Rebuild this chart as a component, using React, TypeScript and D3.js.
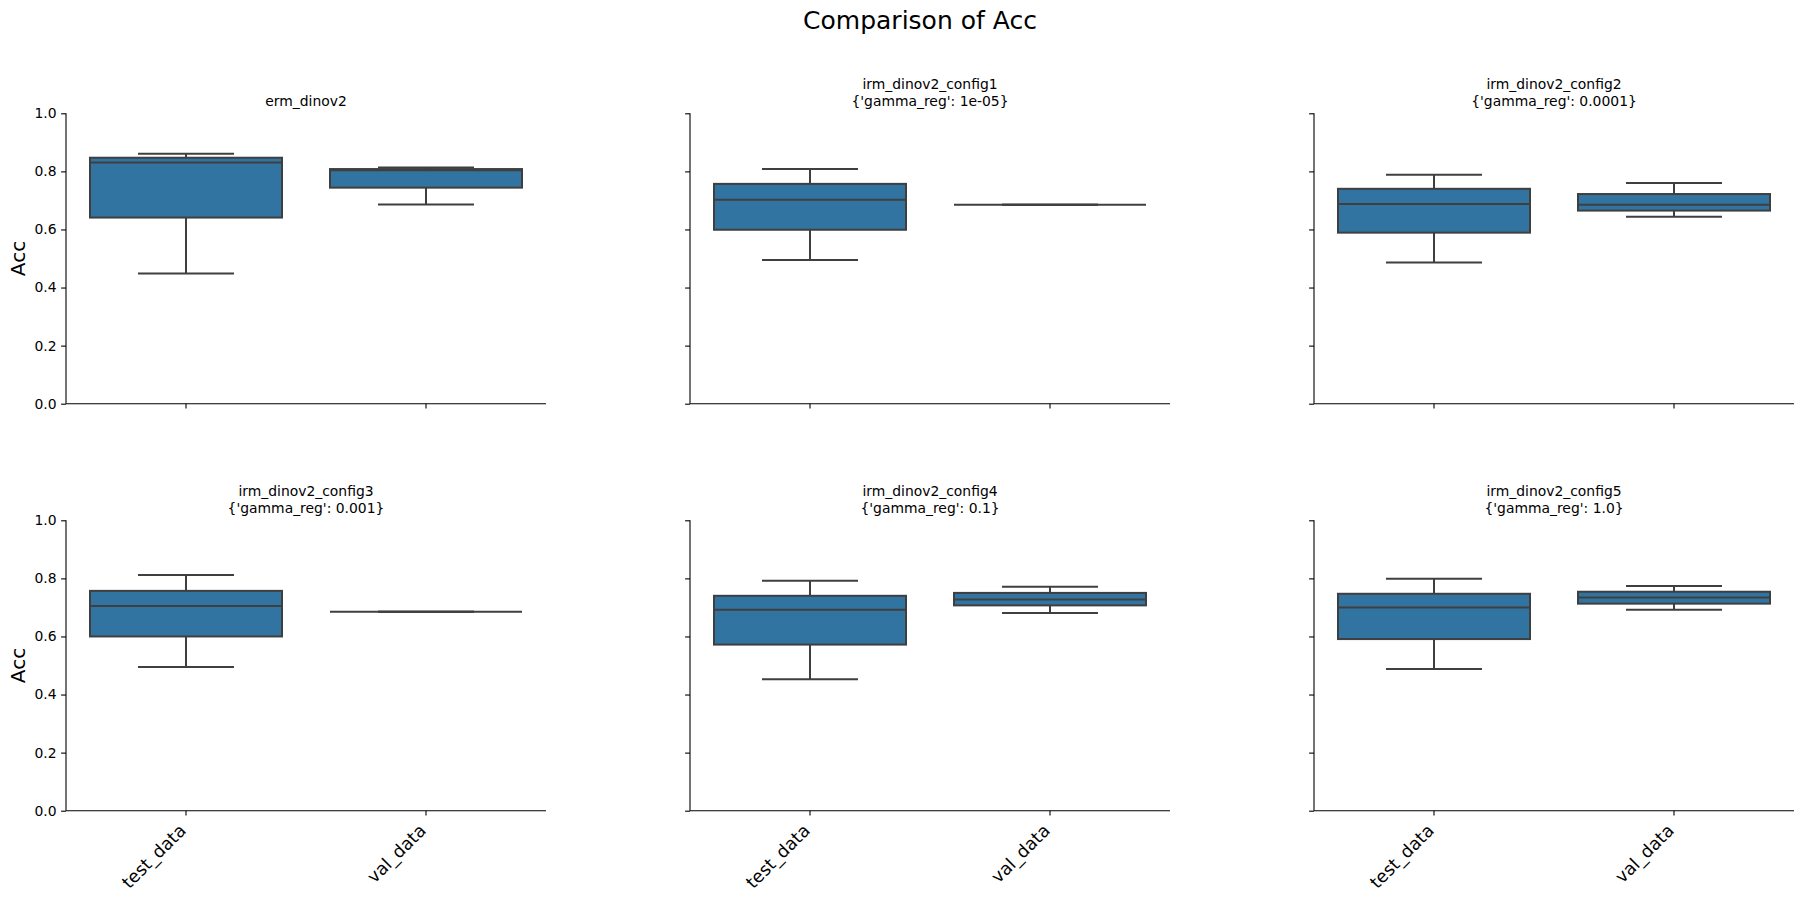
import { useEffect, useRef } from "react";
import * as d3 from "d3";

// panel names + the hyper-param line under them
const panelNames = [
  "erm_dinov2",
  "irm_dinov2_config1",
  "irm_dinov2_config2",
  "irm_dinov2_config3",
  "irm_dinov2_config4",
  "irm_dinov2_config5",
];
const panelParams = [
  "",
  "{'gamma_reg': 1e-05}",
  "{'gamma_reg': 0.0001}",
  "{'gamma_reg': 0.001}",
  "{'gamma_reg': 0.1}",
  "{'gamma_reg': 1.0}",
];
const categories = ["test_data", "val_data"];

// box stats per panel: [whiskerLow, q1, median, q3, whiskerHigh]
const testStats = [
  [0.448, 0.641, 0.831, 0.847, 0.861],
  [0.495, 0.599, 0.702, 0.757, 0.808],
  [0.486, 0.589, 0.688, 0.74, 0.788],
  [0.495, 0.6, 0.705, 0.757, 0.812],
  [0.453, 0.572, 0.692, 0.74, 0.792],
  [0.488, 0.591, 0.7, 0.747, 0.799],
];
const valStats = [
  [0.686, 0.744, 0.804, 0.808, 0.813],
  [0.685, 0.685, 0.685, 0.685, 0.685],
  [0.644, 0.665, 0.685, 0.722, 0.76],
  [0.685, 0.685, 0.685, 0.685, 0.685],
  [0.681, 0.707, 0.727, 0.75, 0.771],
  [0.692, 0.713, 0.734, 0.754, 0.774],
];
const yTicks = [0, 0.2, 0.4, 0.6, 0.8, 1.0];

const FONT = "DejaVu Sans, sans-serif";
const BOX_FILL = "#3274a1";
const LINE = "#3f3f3f";

export default function App() {
  const ref = useRef<SVGSVGElement>(null);

  useEffect(() => {
    document.body.style.margin = "0";
    if (!ref.current) return;
    const svg = d3.select(ref.current);
    svg.selectAll("*").remove();

    const colX = [66, 690, 1314];
    const rowTop = [113.3, 520.3];
    const pw = 480;
    const ph = 290.4;

    svg
      .append("text")
      .attr("x", 920)
      .attr("y", 29)
      .attr("text-anchor", "middle")
      .attr("font-family", FONT)
      .attr("font-size", "25px")
      .attr("fill", "#000")
      .text("Comparison of Acc");

    panelNames.forEach((name, i) => {
      const row = Math.floor(i / 3);
      const col = i % 3;
      const g = svg
        .append("g")
        .attr("transform", `translate(${colX[col]},${rowTop[row]})`);

      const x = d3.scaleBand().domain(categories).range([0, pw]);
      const y = d3.scaleLinear().domain([0, 1]).range([ph, 0]);
      const boxW = x.bandwidth() * 0.8;

      // y axis
      const yAxis = g
        .append("g")
        .call(
          d3
            .axisLeft(y)
            .tickValues(yTicks)
            .tickSize(4.9)
            .tickPadding(4.5)
            .tickFormat((d) => (col === 0 ? d3.format(".1f")(d as number) : ""))
        );
      yAxis.select(".domain").attr("stroke", "#000").attr("stroke-width", 1.1).attr("d", `M0,${ph}V0`);
      yAxis.selectAll(".tick line").attr("stroke", "#000").attr("stroke-width", 1.1);
      yAxis
        .selectAll(".tick text")
        .attr("fill", "#000")
        .attr("font-family", FONT)
        .attr("font-size", "13.9px");

      // x axis
      const xAxis = g
        .append("g")
        .attr("transform", `translate(0,${ph})`)
        .call(d3.axisBottom(x).tickSize(4.9).tickFormat(() => ""));
      xAxis.select(".domain").attr("stroke", "#000").attr("stroke-width", 1.1).attr("d", `M0,0H${pw}`);
      xAxis.selectAll(".tick line").attr("stroke", "#000").attr("stroke-width", 1.1);

      if (row === 1) {
        categories.forEach((c) => {
          const cx = (x(c) ?? 0) + x.bandwidth() / 2;
          g.append("text")
            .attr("transform", `translate(${cx + 1},${ph + 21}) rotate(-45)`)
            .attr("text-anchor", "end")
            .attr("font-family", FONT)
            .attr("font-size", "17.5px")
            .attr("fill", "#000")
            .text(c);
        });
      }

      if (col === 0) {
        g.append("text")
          .attr("transform", `translate(${18.3 - colX[col]},${ph / 2}) rotate(-90)`)
          .attr("text-anchor", "middle")
          .attr("dominant-baseline", "central")
          .attr("font-family", FONT)
          .attr("font-size", "20px")
          .attr("fill", "#000")
          .text("Acc");
      }

      // titles
      const title = g
        .append("text")
        .attr("text-anchor", "middle")
        .attr("font-family", FONT)
        .attr("font-size", "13.9px")
        .attr("fill", "#000");
      if (panelParams[i]) {
        title.append("tspan").attr("x", pw / 2).attr("y", -24).text(name);
        title.append("tspan").attr("x", pw / 2).attr("y", -7).text(panelParams[i]);
      } else {
        title.append("tspan").attr("x", pw / 2).attr("y", -7).text(name);
      }

      // boxes
      [testStats[i], valStats[i]].forEach((s, k) => {
        const cx = (x(categories[k]) ?? 0) + x.bandwidth() / 2;
        const [lo, q1, med, q3, hi] = s;
        const bg = g.append("g").attr("stroke", LINE).attr("stroke-width", 2);
        bg.append("line").attr("x1", cx).attr("x2", cx).attr("y1", y(q1)).attr("y2", y(lo));
        bg.append("line").attr("x1", cx).attr("x2", cx).attr("y1", y(q3)).attr("y2", y(hi));
        bg.append("line")
          .attr("x1", cx - boxW / 4)
          .attr("x2", cx + boxW / 4)
          .attr("y1", y(lo))
          .attr("y2", y(lo));
        bg.append("line")
          .attr("x1", cx - boxW / 4)
          .attr("x2", cx + boxW / 4)
          .attr("y1", y(hi))
          .attr("y2", y(hi));
        bg.append("rect")
          .attr("x", cx - boxW / 2)
          .attr("y", y(q3))
          .attr("width", boxW)
          .attr("height", Math.max(0, y(q1) - y(q3)))
          .attr("fill", BOX_FILL);
        bg.append("line")
          .attr("x1", cx - boxW / 2)
          .attr("x2", cx + boxW / 2)
          .attr("y1", y(med))
          .attr("y2", y(med));
      });
    });
  }, []);

  return <svg ref={ref} width={1803} height={898} style={{ display: "block", background: "#fff" }} />;
}
